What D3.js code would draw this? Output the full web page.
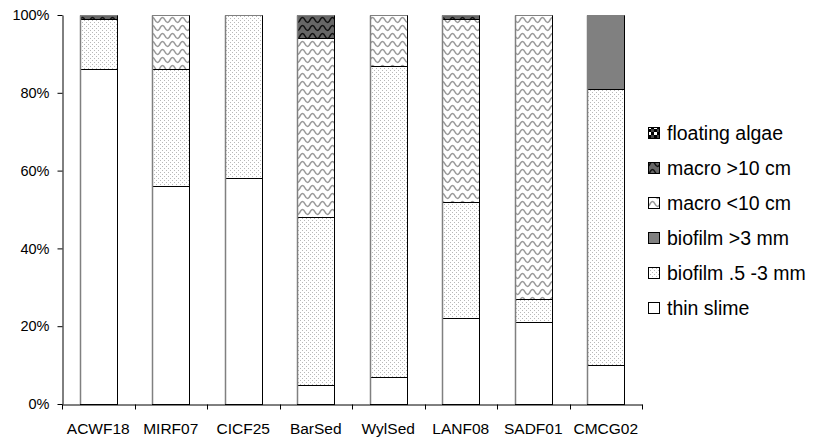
<!DOCTYPE html>
<html>
<head>
<meta charset="utf-8">
<script src="https://cdn.jsdelivr.net/npm/d3@7"></script>
<style>
  html, body { margin: 0; padding: 0; background: #fff; }
  svg { display: block; font-family: "Liberation Sans", Arial, sans-serif; }
</style>
</head>
<body>
<svg id="chart" width="814" height="440"></svg>
<script>
const categories = ["ACWF18", "MIRF07", "CICF25", "BarSed", "WylSed", "LANF08", "SADF01", "CMCG02"];
const thinSlime     = [86, 56, 58, 5, 7, 22, 21, 10];
const biofilmThin   = [13, 30, 42, 43, 80, 30, 6, 71];
const biofilmThick  = [0, 0, 0, 0, 0, 0, 0, 19];
const macroSmall    = [0, 14, 0, 46, 13, 47, 73, 0];
const macroLarge    = [1, 0, 0, 6, 0, 1, 0, 0];
const floatingAlgae = [0, 0, 0, 0, 0, 0, 0, 0];
const seriesNames = ["thin slime", "biofilm .5 -3 mm", "biofilm >3 mm", "macro <10 cm", "macro >10 cm", "floating algae"];
const seriesValues = [thinSlime, biofilmThin, biofilmThick, macroSmall, macroLarge, floatingAlgae];
const yTicks = [0, 20, 40, 60, 80, 100];

(function () {
const svg = d3.select("#chart");
const defs = svg.append("defs");

// patterns
const pDots = defs.append("pattern").attr("id", "p1").attr("patternUnits", "userSpaceOnUse")
  .attr("width", 4).attr("height", 4);
pDots.append("rect").attr("width", 4).attr("height", 4).attr("fill", "#fff");
pDots.append("rect").attr("x", 0).attr("y", 0).attr("width", 1).attr("height", 1).attr("fill", "#b8b8b8");
pDots.append("rect").attr("x", 2).attr("y", 2).attr("width", 1).attr("height", 1).attr("fill", "#b8b8b8");

const pWave = defs.append("pattern").attr("id", "p3").attr("patternUnits", "userSpaceOnUse")
  .attr("width", 10).attr("height", 8);
pWave.append("rect").attr("width", 10).attr("height", 8).attr("fill", "#fff");
pWave.append("path").attr("d", "M-5,4 Q-2.5,9 0,4 Q2.5,-1 5,4 Q7.5,9 10,4 Q12.5,-1 15,4")
  .attr("fill", "none").attr("stroke", "#999").attr("stroke-width", 1.6);

const pWaveD = defs.append("pattern").attr("id", "p4").attr("patternUnits", "userSpaceOnUse")
  .attr("width", 10).attr("height", 8);
pWaveD.append("rect").attr("width", 10).attr("height", 8).attr("fill", "#666");
pWaveD.append("path").attr("d", "M-5,4 Q-2.5,9 0,4 Q2.5,-1 5,4 Q7.5,9 10,4 Q12.5,-1 15,4")
  .attr("fill", "none").attr("stroke", "#111").attr("stroke-width", 1.6);

const pCheck = defs.append("pattern").attr("id", "p5").attr("patternUnits", "userSpaceOnUse")
  .attr("width", 6).attr("height", 6);
pCheck.append("rect").attr("width", 6).attr("height", 6).attr("fill", "#000");
pCheck.append("rect").attr("x", 0).attr("y", 0).attr("width", 3).attr("height", 3).attr("fill", "#fff");
pCheck.append("rect").attr("x", 3).attr("y", 3).attr("width", 3).attr("height", 3).attr("fill", "#444");

const fills = ["#ffffff", "url(#p1)", "#808080", "url(#p3)", "url(#p4)", "url(#p5)"];

const mLeft = 62, mRight = 642, mTop = 15, mBottom = 404;
const x = d3.scaleBand().domain(categories).range([mLeft, mRight]).paddingInner(0.49).paddingOuter(0.245);
const y = d3.scaleLinear().domain([0, 100]).range([mBottom, mTop]);

// stacked data
const rows = categories.map((c, i) => {
  const r = { cat: c };
  seriesNames.forEach((s, j) => r[s] = seriesValues[j][i]);
  return r;
});
const stacked = d3.stack().keys(seriesNames)(rows);

const gBars = svg.append("g");
stacked.forEach((layer, j) => {
  gBars.selectAll(null).data(layer.filter(d => d[1] - d[0] > 0)).join("rect")
    .attr("x", d => Math.round(x(d.data.cat)) + 0.5)
    .attr("y", d => Math.round(y(d[1])) + 0.5)
    .attr("width", Math.round(x.bandwidth()))
    .attr("height", d => Math.round(y(d[0])) - Math.round(y(d[1])))
    .attr("fill", fills[j])
    .attr("stroke", "#000")
    .attr("stroke-width", 1);
});
// grey left and top edges of each bar
gBars.selectAll(null).data(categories).join("line")
  .attr("x1", d => Math.round(x(d)) + 0.5).attr("x2", d => Math.round(x(d)) + 0.5)
  .attr("y1", Math.round(y(100)) + 0.5).attr("y2", mBottom)
  .attr("stroke", "#808080").attr("stroke-width", 1.5);
gBars.selectAll(null).data(categories).join("line")
  .attr("x1", d => Math.round(x(d))).attr("x2", d => Math.round(x(d)) + Math.round(x.bandwidth()) + 0.5)
  .attr("y1", Math.round(y(100)) + 0.5).attr("y2", Math.round(y(100)) + 0.5)
  .attr("stroke", "#808080").attr("stroke-width", 1);

// y axis
const yAxis = svg.append("g").attr("transform", `translate(${mLeft + 0.5},0)`)
  .call(d3.axisLeft(y).tickValues(yTicks).tickFormat(d => d + "%").tickSize(5).tickPadding(8).tickSizeOuter(0));
yAxis.select(".domain").attr("stroke", "#000");
yAxis.selectAll(".tick line").attr("stroke", "#000");
yAxis.selectAll("text").attr("font-size", "14.5px").attr("fill", "#000")
  .attr("font-family", '"Liberation Sans", Arial, sans-serif');

// x axis
const xAxis = svg.append("g").attr("transform", `translate(0,${mBottom + 0.5})`)
  .call(d3.axisBottom(x).tickSize(0).tickPadding(18).tickSizeOuter(0));
xAxis.select(".domain").attr("stroke", "#000");
xAxis.selectAll("text").attr("font-size", "15.5px").attr("fill", "#000")
  .attr("font-family", '"Liberation Sans", Arial, sans-serif');
// boundary ticks
const bounds = d3.range(categories.length + 1).map(i => mLeft + i * x.step());
xAxis.selectAll(null).data(bounds).join("line")
  .attr("x1", d => Math.round(d) + 0.5).attr("x2", d => Math.round(d) + 0.5)
  .attr("y1", 0).attr("y2", 5).attr("stroke", "#000");

// legend
const legendOrder = seriesNames.map((s, j) => ({ name: s, fill: fills[j] })).reverse();
const legY = d3.scalePoint().domain(legendOrder.map(d => d.name)).range([133, 308]);
const gLeg = svg.append("g");
gLeg.selectAll(null).data(legendOrder).join("rect")
  .attr("x", 648.5).attr("y", d => Math.round(legY(d.name)) - 5.5)
  .attr("width", 11).attr("height", 11)
  .attr("fill", d => d.fill).attr("stroke", "#000");
gLeg.selectAll(null).data(legendOrder).join("text")
  .attr("x", 667).attr("y", d => legY(d.name)).attr("dy", "0.35em")
  .attr("font-size", "19.5px").attr("fill", "#000")
  .text(d => d.name);
})();
</script>
</body>
</html>
